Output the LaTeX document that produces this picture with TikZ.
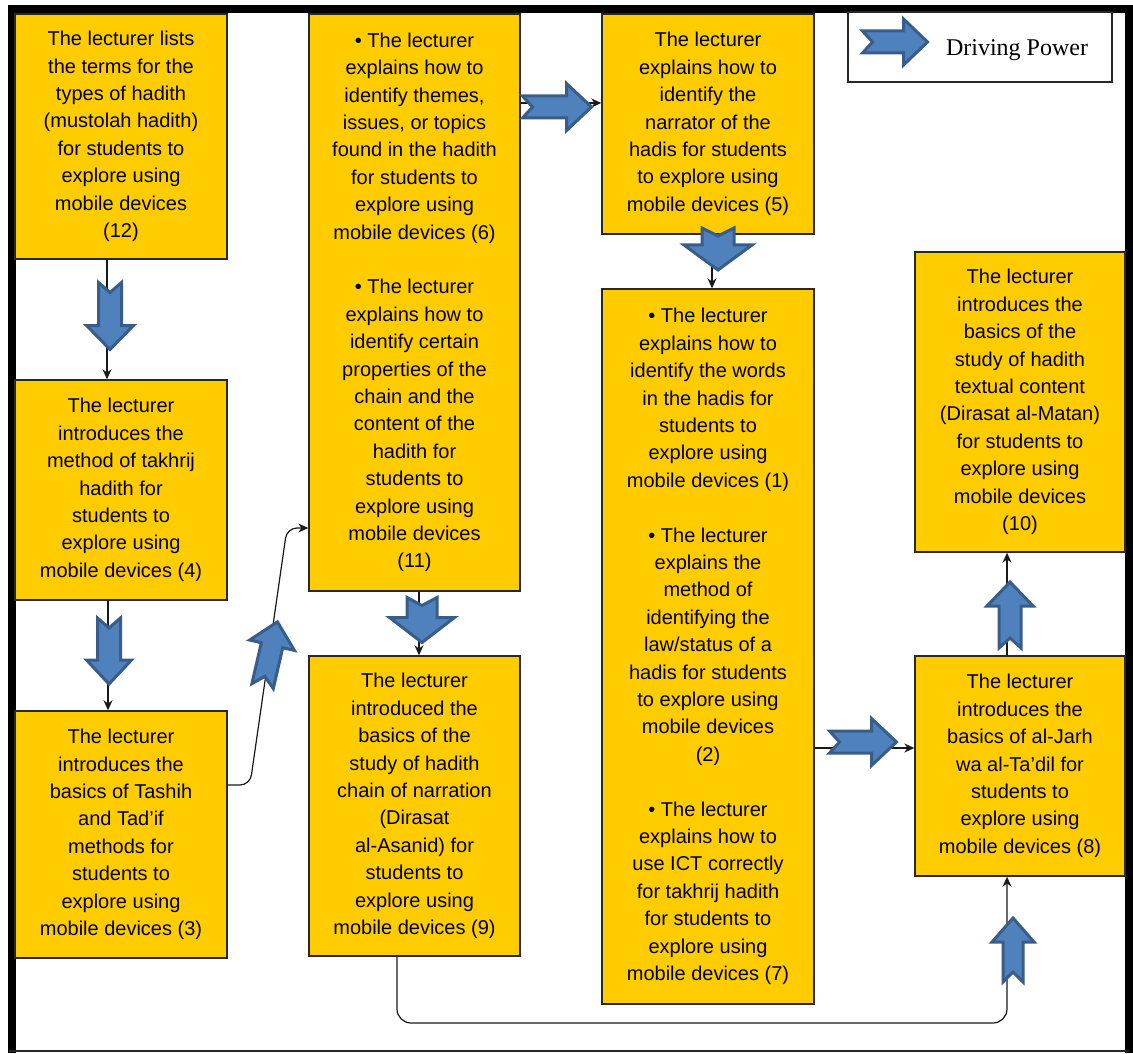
\documentclass[tikz,border=0pt]{standalone}
\usepackage{fontspec}
\setmainfont{Liberation Sans}
\newfontfamily\legendfont{Liberation Serif}
\usetikzlibrary{arrows.meta,calc}
\definecolor{boxfill}{RGB}{255,204,0}
\definecolor{boxline}{RGB}{40,40,40}
\definecolor{arrfill}{RGB}{79,129,189}
\definecolor{arrline}{RGB}{56,93,138}
\tikzset{
  stagebox/.style={draw=boxline, line width=0.7pt, fill=boxfill, inner sep=0pt,
    align=center, font=\fontsize{10pt}{13.7pt}\selectfont},
  conn/.style={draw=black!90, line width=0.6pt, -{Stealth[length=5pt,width=4.5pt]}},
  bluearrow/.style={draw=arrline, fill=arrfill, line width=1.5pt, line join=miter},
}
\newcommand\BlueArr[8]{%
  \begin{scope}[shift={(#1,#2)},rotate=#3]
    \pgfmathsetmacro\hlen{#4/2}
    \draw[bluearrow] (-\hlen,#6/2) -- ({\hlen-#7},#6/2) -- ({\hlen-#7},#5/2) -- (\hlen,0)
      -- ({\hlen-#7},-#5/2) -- ({\hlen-#7},-#6/2) -- (-\hlen,-#6/2) -- ({-\hlen+#8},0) -- cycle;
  \end{scope}}
\begin{document}
\begin{tikzpicture}[x=0.5pt,y=-0.5pt]
\useasboundingbox (0,0) rectangle (1133,1053);
% frame
\draw[line width=4pt] (11.5,1053) -- (11.5,9) -- (1129,9) -- (1129,1053);
\draw[line width=0.8pt, black!85] (9,1051) -- (1129,1051);

% boxes
\node[stagebox, minimum width=106pt, minimum height=122.5pt] (B12) at (121,136.5)
  {The lecturer lists\\the terms for the\\types of hadith\\(mustolah hadith)\\for students to\\explore using\\mobile devices\\(12)};
\node[stagebox, minimum width=106pt, minimum height=110pt] (B4) at (121,490)
  {The lecturer\\introduces the\\method of takhrij\\hadith for\\students to\\explore using\\mobile devices (4)};
\node[stagebox, minimum width=106pt, minimum height=123.5pt] (B3) at (121,834.5)
  {The lecturer\\introduces the\\basics of Tashih\\and Tad'if\\methods for\\students to\\explore using\\mobile devices (3)};
\node[stagebox, minimum width=105.5pt, minimum height=288.5pt] (B6) at (414.5,302.5)
  {• The lecturer\\explains how to\\identify themes,\\issues, or topics\\found in the hadith\\for students to\\explore using\\mobile devices (6)\\[13.7pt]
   • The lecturer\\explains how to\\identify certain\\properties of the\\chain and the\\content of the\\hadith for\\students to\\explore using\\mobile devices\\(11)};
\node[stagebox, minimum width=105.5pt, minimum height=150pt] (B9) at (414.5,806)
  {The lecturer\\introduced the\\basics of the\\study of hadith\\chain of narration\\(Dirasat\\al-Asanid) for\\students to\\explore using\\mobile devices (9)};
\node[stagebox, minimum width=106pt, minimum height=110pt] (B5) at (708,124)
  {The lecturer\\explains how to\\identify the\\narrator of the\\hadis for students\\to explore using\\mobile devices (5)};
\node[stagebox, minimum width=106pt, minimum height=357.5pt] (B1) at (708,646.5)
  {• The lecturer\\explains how to\\identify the words\\in the hadis for\\students to\\explore using\\mobile devices (1)\\[13.7pt]
   • The lecturer\\explains the\\method of\\identifying the\\law/status of a\\hadis for students\\to explore using\\mobile devices\\(2)\\[13.7pt]
   • The lecturer\\explains how to\\use ICT correctly\\for takhrij hadith\\for students to\\explore using\\mobile devices (7)};
\node[stagebox, minimum width=105pt, minimum height=150pt] (B10) at (1020,402)
  {The lecturer\\introduces the\\basics of the\\study of hadith\\textual content\\(Dirasat al-Matan)\\for students to\\explore using\\mobile devices\\(10)};
\node[stagebox, minimum width=105pt, minimum height=110pt] (B8) at (1020,766)
  {The lecturer\\introduces the\\basics of al-Jarh\\wa al-Ta'dil for\\students to\\explore using\\mobile devices (8)};

% legend
\node[draw=boxline, line width=0.7pt, fill=white, minimum width=132pt, minimum height=35pt] (legend) at (980,47) {};
\node[font=\legendfont\fontsize{12pt}{14pt}\selectfont, inner sep=0pt] (legtext) at (1017,50) {Driving Power};

% connectors
\draw[conn] ([xshift=-7pt]B12.south) -- ([xshift=-7pt]B4.north);
\draw[conn] ([xshift=-6.5pt]B4.south) -- ([xshift=-6.5pt]B3.north);
\coordinate (b3e) at ([yshift=24.75pt]B3.east);
\coordinate (b6w) at ([yshift=-112.75pt]B6.west);
\coordinate (k1) at (250,785);
\coordinate (k2) at (287,528);
\draw[conn, rounded corners=5pt] (b3e) -- (k1) -- (k2) -- (b6w);
\coordinate (b5w) at ([yshift=10.5pt]B5.west);
\draw[conn] (B6.east |- b5w) -- (b5w);
\draw[conn] ([xshift=2pt]B5.south) -- ([xshift=2pt]B1.north);
\draw[conn] ([xshift=2.25pt]B6.south) -- ([xshift=2.25pt]B9.north);
\coordinate (b8w) at ([yshift=9pt]B8.west);
\draw[conn] (B1.east |- b8w) -- (b8w);
\draw[conn] ([xshift=-6.5pt]B8.north) -- ([xshift=-6.5pt]B10.south);
\coordinate (b9s) at ([xshift=-8.75pt]B9.south);
\coordinate (b8s) at ([xshift=-6.5pt]B8.south);
\coordinate (bot) at (0,1023);
\draw[conn, rounded corners=7pt] (b9s) -- (b9s |- bot) -| (b8s);

% driving power arrows: cx, cy, angle, length, head width, shaft width, head length, notch
\BlueArr{110}{316}{-90}{67}{47}{23}{24}{10}
\BlueArr{109}{651}{-90}{66}{45}{23}{24}{10}
\BlueArr{270}{654}{77}{66}{46}{22}{24}{10}
\BlueArr{557}{107}{0}{69}{47}{22}{25}{10}
\BlueArr{718}{249}{-90}{42}{68}{32}{25}{8}
\BlueArr{422}{620}{-90}{45}{65}{30}{25}{8}
\BlueArr{863}{742}{0}{67}{47}{22}{25}{10}
\BlueArr{1010}{615}{90}{66}{46}{22}{24}{10}
\BlueArr{1013}{950}{90}{64}{42}{20}{24}{10}
\BlueArr{895}{42}{0}{65}{46}{22}{24}{10}
\end{tikzpicture}
\end{document}
